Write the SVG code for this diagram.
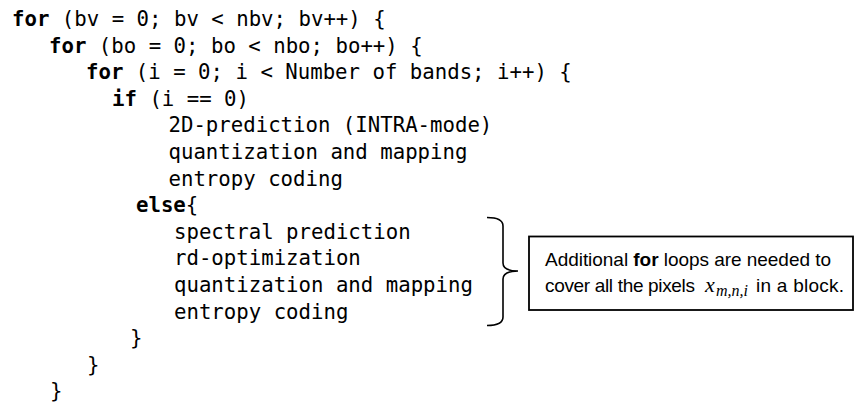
<svg xmlns="http://www.w3.org/2000/svg" width="855" height="403" viewBox="0 0 855 403">
<style>
.code{font-family:"DejaVu Sans Mono","Liberation Mono",monospace;font-size:20.7px;fill:#000;white-space:pre}
.kw{font-weight:bold}
.note{font-family:"Liberation Sans",Arial,sans-serif;font-size:19px;fill:#000}
.math{font-family:"Liberation Serif","Times New Roman",serif;font-style:italic;fill:#000}
.line{fill:none;stroke:#000;stroke-width:1.6}
</style>
<rect width="855" height="403" fill="#fff"/>
<g id="code">
<text class="code" x="12" y="26" xml:space="preserve"><tspan class="kw">for</tspan> (bv = 0; bv &lt; nbv; bv++) {</text>
<text class="code" x="49" y="52.6" xml:space="preserve"><tspan class="kw">for</tspan> (bo = 0; bo &lt; nbo; bo++) {</text>
<text class="code" x="86" y="79.2" xml:space="preserve"><tspan class="kw">for</tspan> (i = 0; i &lt; Number of bands; i++) {</text>
<text class="code" x="112" y="105.8" xml:space="preserve"><tspan class="kw">if</tspan> (i == 0)</text>
<text class="code" x="168.5" y="132.4">2D-prediction (INTRA-mode)</text>
<text class="code" x="168.5" y="159">quantization and mapping</text>
<text class="code" x="168.5" y="185.6">entropy coding</text>
<text class="code" x="136" y="212.2"><tspan class="kw">else</tspan>{</text>
<text class="code" x="174" y="238.8">spectral prediction</text>
<text class="code" x="174" y="265.4">rd-optimization</text>
<text class="code" x="174" y="292">quantization and mapping</text>
<text class="code" x="174" y="318.6">entropy coding</text>
<text class="code" x="130" y="345.2">}</text>
<text class="code" x="87" y="371.8">}</text>
<text class="code" x="50" y="398.4">}</text>
</g>
<g id="connectors">
<path class="line" d="M487,217.5 Q503,217.5 503,226 L503,263 Q503,271 518,271 Q503,271 503,279 L503,317 Q503,325.5 487,325.5"/>
</g>
<g id="note">
<rect x="529" y="236.5" width="324" height="73.5" fill="#fff" stroke="#000" stroke-width="1.8"/>
<text class="note" x="545" y="265.5" textLength="286" lengthAdjust="spacing">Additional <tspan font-weight="bold">for</tspan> loops are needed to</text>
<text class="note" x="545" y="291.5" textLength="150" lengthAdjust="spacing">cover all the pixels</text>
<text class="math" x="705" y="291.5" font-size="22">x</text>
<text class="math" x="716" y="295.5" font-size="16">m,n,i</text>
<text class="note" x="756" y="291.5" textLength="88" lengthAdjust="spacing">in a block.</text>
</g>
</svg>
